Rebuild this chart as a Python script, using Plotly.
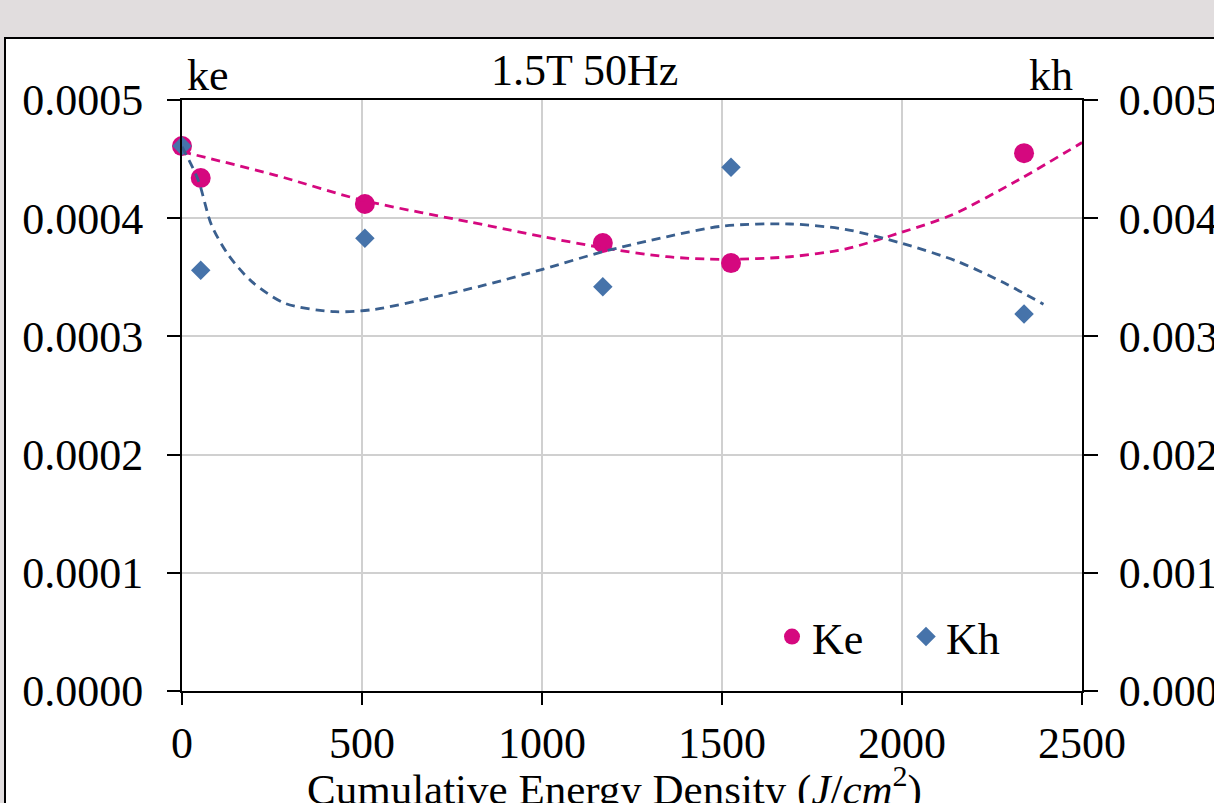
import plotly.graph_objects as go

# Data
energy = [0, 52, 508, 1169, 1525, 2339]
ke_vals = [0.000461, 0.000434, 0.000412, 0.000379, 0.000362, 0.000455]
kh_vals = [0.00461, 0.00356, 0.00383, 0.00342, 0.00443, 0.00319]

# Trendlines
ke_trend_x = [0, 258, 499, 842, 1003, 1169, 1346, 1504, 1689, 1842, 1999, 2138, 2323, 2500]
ke_trend_y = [0.0004563, 0.0004365, 0.0004154, 0.0003942, 0.0003843, 0.0003750, 0.0003674,
              0.0003652, 0.0003674, 0.0003739, 0.0003881, 0.0004027, 0.0004323, 0.0004640]
kh_trend_x = [0, 45, 82, 129, 194, 286, 425, 536, 684, 842, 1004, 1170, 1346, 1504, 1689,
              1842, 1999, 2156, 2286, 2393]
kh_trend_y = [0.004605, 0.004323, 0.003942, 0.003689, 0.003463, 0.003280, 0.003209, 0.003229,
              0.003322, 0.003435, 0.003570, 0.003717, 0.003843, 0.003934, 0.003951, 0.003906,
              0.003788, 0.003632, 0.003449, 0.003272]

x_ticks = [0, 500, 1000, 1500, 2000, 2500]
ke_ticks = [0.0, 0.0001, 0.0002, 0.0003, 0.0004, 0.0005]
kh_ticks = [0.0, 0.001, 0.002, 0.003, 0.004, 0.005]

KE_COLOR = "#D5087F"
KH_COLOR = "#4673AA"
KH_TREND = "#3A5F8E"
FONT = "Liberation Serif"
FS = 44

fig = go.Figure()
fig.add_trace(go.Scatter(x=energy, y=ke_vals, mode="markers", name="Ke", cliponaxis=False,
                         marker=dict(symbol="circle", size=20, color=KE_COLOR)))
fig.add_trace(go.Scatter(x=energy, y=kh_vals, mode="markers", name="Kh", yaxis="y2",
                         cliponaxis=False,
                         marker=dict(symbol="diamond", size=15, color=KH_COLOR)))
fig.add_trace(go.Scatter(x=ke_trend_x, y=ke_trend_y, mode="lines", showlegend=False,
                         line=dict(color=KE_COLOR, width=2.8, dash="9px,6px",
                                   shape="spline", smoothing=0.8), hoverinfo="skip"))
fig.add_trace(go.Scatter(x=kh_trend_x, y=kh_trend_y, mode="lines", showlegend=False,
                         yaxis="y2", line=dict(color=KH_TREND, width=2.8, dash="9px,6px",
                                               shape="spline", smoothing=0.8),
                         hoverinfo="skip"))

# white chart area with black border on gray background
fig.add_shape(type="rect", xref="paper", yref="paper",
              x0=(5 - 182) / 900, x1=1.6, y0=-0.5, y1=(691 - 38) / 591,
              fillcolor="white", line=dict(color="black", width=2), layer="below")

axis_font = dict(family=FONT, size=FS, color="black")
fig.update_layout(
    width=1214, height=803, autosize=False,
    margin=dict(l=182, r=132, t=100, b=112, autoexpand=False),
    paper_bgcolor="#E1DDDE", plot_bgcolor="white",
    font=axis_font,
    showlegend=True,
    legend=dict(orientation="h", x=(772 - 182) / 900, xanchor="left",
                y=(691 - 637) / 591, yanchor="middle", bgcolor="rgba(0,0,0,0)",
                font=dict(family=FONT, size=FS, color="black"), itemwidth=30,
                entrywidth=89, entrywidthmode="pixels"),
    xaxis=dict(range=[0, 2500], tickvals=x_ticks, ticktext=[str(v) for v in x_ticks],
               showgrid=True, gridcolor="#D0D0D0", gridwidth=2, automargin=False,
               showline=True, linecolor="black", linewidth=2, mirror=True,
               ticks="outside", ticklen=12, tickwidth=2, tickcolor="black",
               tickfont=axis_font, zeroline=False),
    yaxis=dict(range=[0, 0.0005], tickvals=ke_ticks, ticktext=[f"{v:.4f}" for v in ke_ticks],
               showgrid=True, gridcolor="#D0D0D0", gridwidth=2, automargin=False,
               showline=True, linecolor="black", linewidth=2,
               ticks="outside", ticklen=13, tickwidth=2, tickcolor="black",
               tickfont=axis_font, ticklabelstandoff=15, zeroline=False),
    yaxis2=dict(range=[0, 0.005], tickvals=kh_ticks, ticktext=[f"{v:.3f}" for v in kh_ticks],
                overlaying="y", side="right", showgrid=False, automargin=False,
                showline=True, linecolor="black", linewidth=2,
                ticks="outside", ticklen=14, tickwidth=2, tickcolor="black",
                tickfont=axis_font, ticklabelstandoff=12, zeroline=False),
    annotations=[
        dict(text="ke", xref="paper", yref="paper", x=0.003, y=1.0, xanchor="left",
             yanchor="bottom", yshift=-2, showarrow=False, font=axis_font),
        dict(text="kh", xref="paper", yref="paper", x=0.992, y=1.0, xanchor="right",
             yanchor="bottom", yshift=-2, showarrow=False, font=axis_font),
        dict(text="1.5T 50Hz", xref="paper", yref="paper", x=(584 - 182) / 900, y=1.0,
             xanchor="center", yanchor="bottom", yshift=3, showarrow=False, font=axis_font),
        dict(text="Cumulative Energy Density (<i>J</i>/<i>cm</i><sup>2</sup>)",
             xref="paper", yref="paper", x=(614 - 182) / 900, y=(691 - 757) / 591,
             xanchor="center", yanchor="top", showarrow=False,
             font=dict(family=FONT, size=43, color="black")),
    ],
)

fig.write_html(
    "out.html",
    config={"displayModeBar": False},
    post_script="document.body.style.margin='0';document.body.style.overflow='hidden';",
)
